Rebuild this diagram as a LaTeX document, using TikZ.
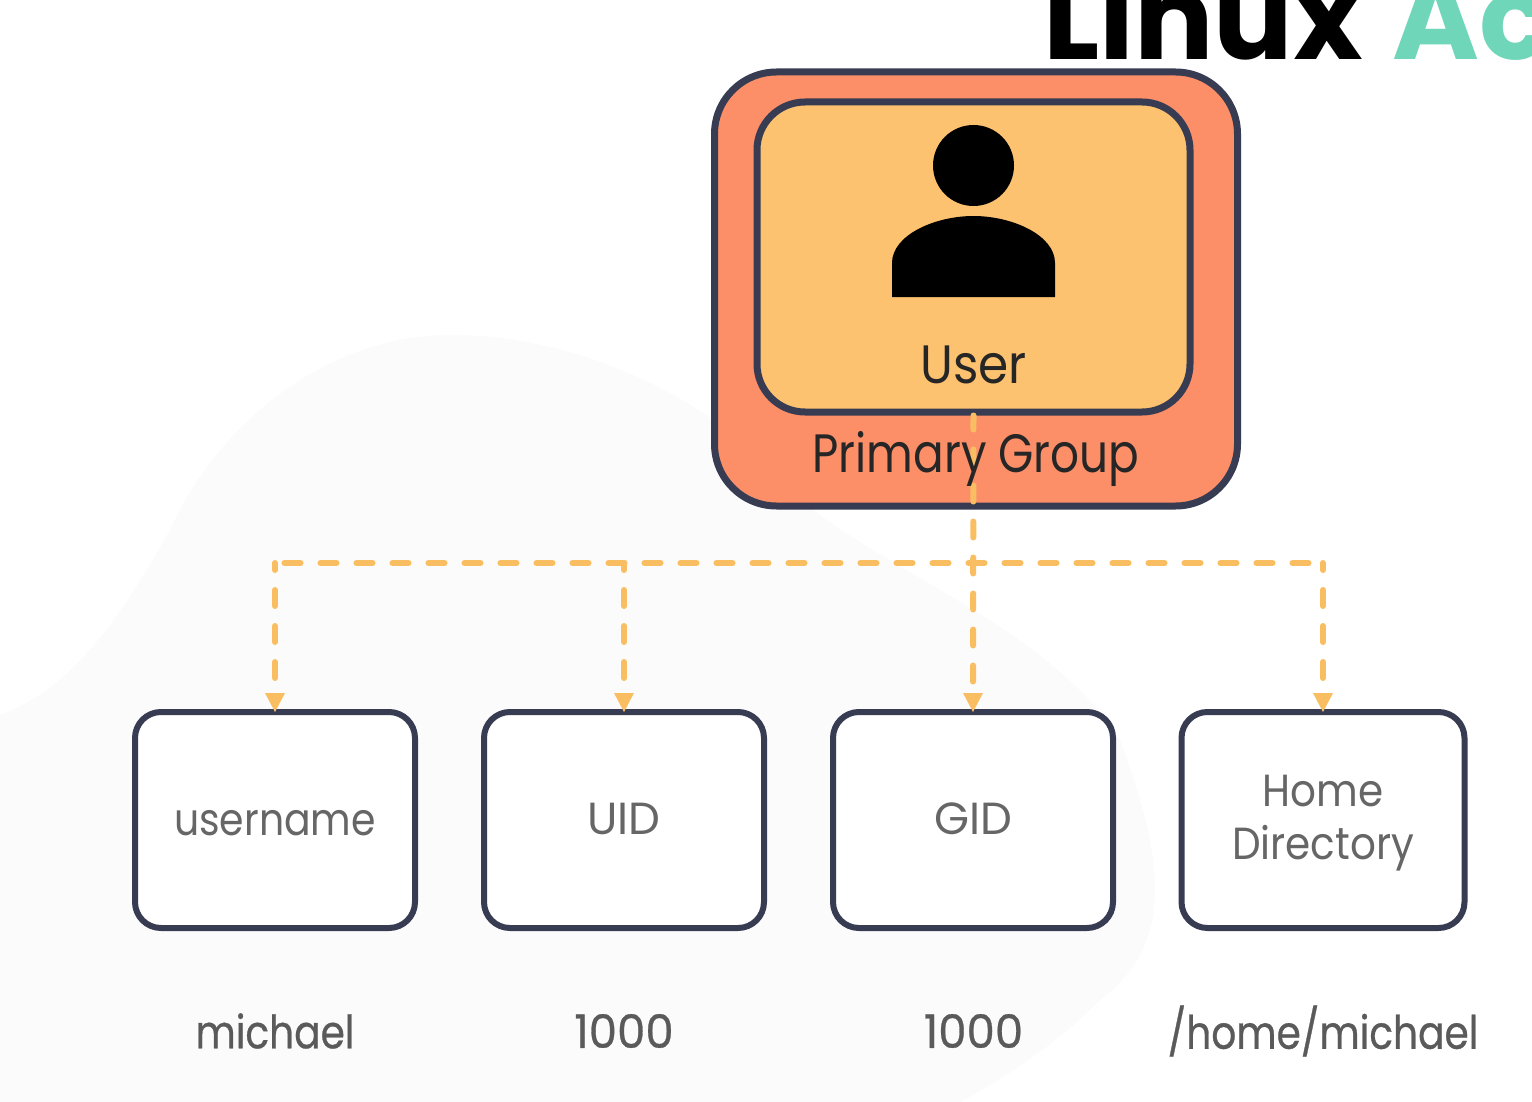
\documentclass[tikz,border=0pt]{standalone}
\usepackage{fontspec}
\setmainfont{Poppins}
\newfontfamily\narrowfont[FakeStretch=0.84]{Poppins}
\newfontfamily\midfont[FakeStretch=0.90]{Poppins}
\newfontfamily\fieldfont[FakeStretch=0.875]{Poppins}
\newfontfamily\narrowbold[FakeStretch=0.85,FakeBold=0.6]{Poppins}
\newfontfamily\widebold[FakeStretch=0.98,FakeBold=0.6]{Poppins}
\definecolor{edge}{HTML}{383C52}
\definecolor{peach}{HTML}{FC8F68}
\definecolor{sand}{HTML}{FDC270}
\definecolor{dash}{HTML}{F9BE62}
\definecolor{mint}{HTML}{6FD6B9}
\definecolor{blob}{HTML}{FBFBFC}
\definecolor{lbl}{HTML}{666666}
\definecolor{val}{HTML}{5A5A5A}
\tikzset{
  fieldbox/.style={draw=edge,line width=6pt,fill=white,rounded corners=26pt,minimum width=280pt,minimum height=216pt,inner sep=0pt},
  fieldtext/.style={inner sep=0pt,align=center,text=lbl,font=\fieldfont\fontsize{45}{53}\selectfont},
  valtext/.style={text=val,font=\narrowbold\fontsize{46}{50}\selectfont,inner sep=0pt},
  bigtext/.style={inner sep=0pt,font=\narrowfont\fontsize{54}{60}\selectfont,text=black!85},
  link/.style={draw=dash,line width=6pt,line cap=round,dash pattern=on 16pt off 20pt},
  tip/.style={fill=dash,draw=none},
}
\begin{document}
\begin{tikzpicture}[x=1pt,y=-1pt]
\useasboundingbox (0,0) rectangle (1532,1102);
\fill[white] (0,0) rectangle (1532,1102);
\fill[blob] (0,715) .. controls (70,690) and (120,620) .. (170,530)
  .. controls (220,420) and (330,335) .. (450,335)
  .. controls (580,335) and (720,400) .. (800,500)
  .. controls (900,580) and (1050,630) .. (1120,740)
  .. controls (1160,850) and (1180,940) .. (1100,1000)
  .. controls (1050,1050) and (1000,1080) .. (960,1102) -- (0,1102) -- cycle;
\clip (0,0) rectangle (1532,1102);
\node[anchor=base west,inner sep=0pt,font=\fontsize{118}{118}\selectfont\bfseries] (title) at (1043,60) {Linux\hspace{0.25em}\textcolor{mint}{Ac}};
\node[draw=edge,line width=7pt,fill=peach,rounded corners=62pt,minimum width=523pt,minimum height=434pt,inner sep=0pt] (group) at (976,289) {};
\node[draw=edge,line width=7pt,fill=sand,rounded corners=48pt,minimum width=433pt,minimum height=310pt,inner sep=0pt] (user) at (973.5,257) {};
\node[fill=black,circle,minimum size=81pt,inner sep=0pt] (head) at (973.5,165.5) {};
\fill[black] (892,297) -- (892,263) .. controls (892,235) and (935,216) .. (973.5,216) .. controls (1012,216) and (1055,235) .. (1055,263) -- (1055,297) -- cycle;
\node[fieldbox] (f1) at (275,820) {};
\node[fieldbox] (f2) at (624,820) {};
\node[fieldbox] (f3) at (973,820) {};
\node[fieldbox,minimum width=283pt] (f4) at (1323,820) {};
\node[fieldtext,anchor=base] (l1) at (275,835) {username};
\node[fieldtext,anchor=base,font=\rmfamily\fontsize{45}{53}\selectfont] (l2) at (624,834) {UID};
\node[fieldtext,anchor=base,font=\rmfamily\fontsize{45}{53}\selectfont] (l3) at (973,834) {GID};
\node[fieldtext,font=\midfont\fontsize{45}{53}\selectfont] (l4) at (1323,823) {Home\\Directory};
\node[valtext] (v1) at (275,1031) {michael};
\node[valtext,font=\widebold\fontsize{46}{50}\selectfont] (v2) at (624,1031) {1000};
\node[valtext,font=\widebold\fontsize{46}{50}\selectfont] (v3) at (973.5,1031) {1000};
\node[valtext] (v4) at (1323,1031) {/home/michael};
\coordinate (bus) at (973.5,563);
\path[link,dash phase=26.5pt] (f1.north |- bus) -- (f4.north |- bus);
\foreach \n in {1,2,4}{
  \path[link,dash phase=9pt] (f\n.north |- bus) -- ([yshift=19pt]f\n.north);
  \fill[tip] ([xshift=-10pt,yshift=16pt]f\n.north) -- ([xshift=10pt,yshift=16pt]f\n.north) -- ([yshift=-3pt]f\n.north) -- cycle;
}
\path[link,dash phase=2pt] (user.south) -- ([yshift=19pt]f3.north);
\fill[tip] ([xshift=-10pt,yshift=16pt]f3.north) -- ([xshift=10pt,yshift=16pt]f3.north) -- ([yshift=-3pt]f3.north) -- cycle;
\node[bigtext,font=\midfont\fontsize{54}{60}\selectfont] (userlabel) at (973.5,365) {User};
\node[bigtext] (grouplabel) at (976,459) {Primary Group};
\end{tikzpicture}
\end{document}
